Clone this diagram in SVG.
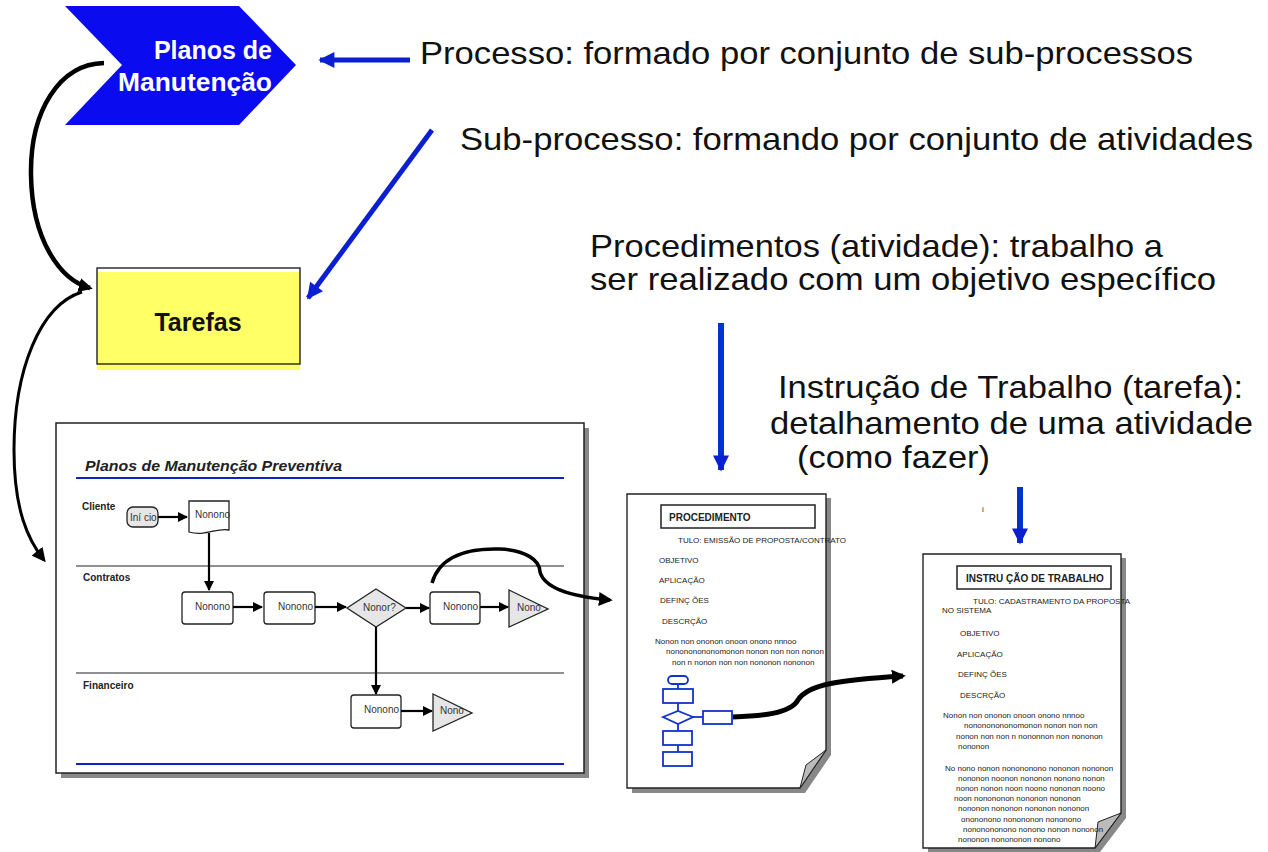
<svg xmlns="http://www.w3.org/2000/svg" width="1268" height="852" viewBox="0 0 1268 852">
<style>
.big{font-family:"Liberation Sans",Arial,sans-serif;font-size:32px;fill:#111}
.lane{font-family:"Liberation Sans",Arial,sans-serif;font-size:10px;font-weight:bold;fill:#222}
.sm{font-family:"Liberation Sans",Arial,sans-serif;font-size:10px;fill:#333}
.doc{font-family:"Liberation Sans",Arial,sans-serif;font-size:8px;fill:#222}
.box{fill:#fff;stroke:#222;stroke-width:1.3}
.gray{fill:#e6e6e6;stroke:#222;stroke-width:1.3}
.fl{fill:none;stroke:#000;stroke-width:2.2}
.bl{fill:#fff;stroke:#1133cc;stroke-width:1.8}
</style>
<defs>
<marker id="ah" viewBox="0 0 10 10" refX="9" refY="5" markerWidth="10" markerHeight="10" markerUnits="userSpaceOnUse" orient="auto"><path d="M0,0 L10,5 L0,10 z" fill="#000"/></marker>
<marker id="bk" viewBox="0 0 10 10" refX="8" refY="5" markerWidth="14" markerHeight="14" markerUnits="userSpaceOnUse" orient="auto"><path d="M0,0 L10,5 L0,10 z" fill="#000"/></marker>
<marker id="bb" viewBox="0 0 10 10" refX="9" refY="5" markerWidth="18" markerHeight="16" markerUnits="userSpaceOnUse" orient="auto"><path d="M0,0 L10,5 L0,10 z" fill="#0a1fd0"/></marker>
</defs>

<g id="planos">
<polygon points="65,6 239,6 296,65 239,125 65,125 122,65" fill="#0b0bf0"/>
<text x="272" y="59" text-anchor="end" font-family="Liberation Sans,Arial,sans-serif" font-size="25" font-weight="bold" fill="#fff">Planos de</text>
<text x="272" y="91" text-anchor="end" font-family="Liberation Sans,Arial,sans-serif" font-size="25" font-weight="bold" fill="#fff" textLength="154" lengthAdjust="spacingAndGlyphs">Manutenção</text>
</g>

<g id="tarefas">
<rect x="97" y="272" width="203" height="98" fill="#ffff66"/>
<rect x="97" y="268" width="203" height="96" fill="none" stroke="#111" stroke-width="1.3"/>
<text x="198" y="331" text-anchor="middle" font-family="Liberation Sans,Arial,sans-serif" font-size="25" font-weight="bold" fill="#111">Tarefas</text>
</g>

<g id="labels">
<text class="big" x="420" y="64" textLength="773" lengthAdjust="spacingAndGlyphs">Processo: formado por conjunto de sub-processos</text>
<text class="big" x="460" y="150" textLength="793" lengthAdjust="spacingAndGlyphs">Sub-processo: formando por conjunto de atividades</text>
<text class="big" x="590" y="257" textLength="573" lengthAdjust="spacingAndGlyphs">Procedimentos (atividade): trabalho a</text>
<text class="big" x="590" y="290" textLength="626" lengthAdjust="spacingAndGlyphs">ser realizado com um objetivo específico</text>
<text class="big" x="778" y="398" textLength="465" lengthAdjust="spacingAndGlyphs">Instrução de Trabalho (tarefa):</text>
<text class="big" x="770" y="434" textLength="483" lengthAdjust="spacingAndGlyphs">detalhamento de uma atividade</text>
<text class="big" x="797" y="468" textLength="193" lengthAdjust="spacingAndGlyphs">(como fazer)</text>
<text class="doc" x="982" y="512" font-size="7">i</text>
</g>

<g id="panel">
<rect x="61" y="428" width="528" height="350" fill="#888"/>
<rect x="56" y="423" width="528" height="350" fill="#fff" stroke="#222" stroke-width="1.5"/>
<text x="85" y="471" font-family="Liberation Sans,Arial,sans-serif" font-size="15" font-weight="bold" font-style="italic" fill="#222" textLength="257" lengthAdjust="spacingAndGlyphs">Planos de Manutenção Preventiva</text>
<line x1="76" y1="478" x2="564" y2="478" stroke="#1122cc" stroke-width="2.2"/>
<line x1="76" y1="566" x2="564" y2="566" stroke="#222" stroke-width="1.2"/>
<line x1="76" y1="673" x2="564" y2="673" stroke="#222" stroke-width="1.2"/>
<line x1="76" y1="764" x2="564" y2="764" stroke="#1122cc" stroke-width="2.2"/>
<text class="lane" x="82" y="510">Cliente</text>
<text class="lane" x="83" y="581">Contratos</text>
<text class="lane" x="83" y="689">Financeiro</text>
<g id="flow">
<rect class="gray" x="127" y="507" width="31" height="20" rx="6"/>
<text class="sm" x="130" y="521">Iní cio</text>
<path class="box" d="M189,501 H229 V530 C218,527 205,537 189,532 Z"/>
<text class="sm" x="195" y="518">Nonono</text>
<rect class="box" x="182" y="592" width="51" height="32" rx="3"/>
<text class="sm" x="195" y="610">Nonono</text>
<rect class="box" x="264" y="592" width="51" height="32" rx="3"/>
<text class="sm" x="278" y="610">Nonono</text>
<polygon class="gray" points="347,608 376,589 406,608 376,627"/>
<text class="sm" x="363" y="611">Nonor?</text>
<rect class="box" x="430" y="592" width="50" height="32" rx="3"/>
<text class="sm" x="443" y="610">Nonono</text>
<polygon class="gray" points="509,590 548,609 509,627"/>
<text class="sm" x="517" y="611">Nono</text>
<rect class="box" x="351" y="695" width="50" height="33" rx="3"/>
<text class="sm" x="364" y="713">Nonono</text>
<polygon class="gray" points="433,694 472,713 433,731"/>
<text class="sm" x="440" y="714">Nono</text>
<line class="fl" x1="158" y1="517" x2="187" y2="517" marker-end="url(#ah)"/>
<line class="fl" x1="209" y1="533" x2="209" y2="590" marker-end="url(#ah)"/>
<line class="fl" x1="233" y1="607" x2="262" y2="607" marker-end="url(#ah)"/>
<line class="fl" x1="315" y1="607" x2="346" y2="607" marker-end="url(#ah)"/>
<line class="fl" x1="406" y1="608" x2="429" y2="608" marker-end="url(#ah)"/>
<line class="fl" x1="480" y1="607" x2="508" y2="607" marker-end="url(#ah)"/>
<line class="fl" x1="376" y1="627" x2="376" y2="694" marker-end="url(#ah)"/>
<line class="fl" x1="401" y1="711" x2="432" y2="711" marker-end="url(#ah)"/>
</g>
</g>

<g id="procedimento">
<path d="M632,498 H831 V755 L805,793 H632 Z" fill="#888"/>
<path d="M627,494 H826 V750 L800,788 H627 Z" fill="#fff" stroke="#222" stroke-width="1.4"/>
<path d="M826,750 L800,788 L806,765 Z" fill="#bbb" stroke="#222" stroke-width="1"/>
<rect x="661" y="505" width="154" height="23" fill="#fff" stroke="#222" stroke-width="1.5"/>
<text x="669" y="521" font-family="Liberation Sans,Arial,sans-serif" font-size="10" font-weight="bold" fill="#222">PROCEDIMENTO</text>
<text class="doc" x="678" y="543">TULO: EMISSÃO DE PROPOSTA/CONTRATO</text>
<text class="doc" x="659" y="563">OBJETIVO</text>
<text class="doc" x="659" y="583">APLICAÇÃO</text>
<text class="doc" x="660" y="603">DEFINÇ ÕES</text>
<text class="doc" x="662" y="624">DESCRÇÃO</text>
<text class="doc" x="655" y="644">Nonon non   ononon onoon onono  nnnoo</text>
<text class="doc" x="666" y="654">nonononononomonon  nonon non  non    nonon</text>
<text class="doc" x="672" y="665">non n   nonon non  non     nononon   nononon</text>
<g id="miniflow">
<line x1="678" y1="683" x2="678" y2="752" stroke="#1133cc" stroke-width="1.8"/>
<line x1="693" y1="717" x2="703" y2="717" stroke="#1133cc" stroke-width="1.8"/>
<rect class="bl" x="668" y="676" width="20" height="8" rx="4"/>
<rect class="bl" x="663" y="689" width="30" height="14"/>
<polygon class="bl" points="663,717 678,711 693,717 678,724"/>
<rect class="bl" x="703" y="711" width="29" height="13"/>
<rect class="bl" x="663" y="731" width="29" height="14"/>
<rect class="bl" x="663" y="752" width="29" height="14"/>
</g>
</g>

<g id="instrucao">
<path d="M928,558 H1126 V818 L1100,852 H928 Z" fill="#888"/>
<path d="M923,554 H1121 V813 L1095,848 H923 Z" fill="#fff" stroke="#222" stroke-width="1.4"/>
<path d="M1121,813 L1095,848 L1098,822 Z" fill="#bbb" stroke="#222" stroke-width="1"/>
<rect x="957" y="566" width="154" height="23" fill="#fff" stroke="#222" stroke-width="1.5"/>
<text x="966" y="582" font-family="Liberation Sans,Arial,sans-serif" font-size="10" font-weight="bold" fill="#222">INSTRU ÇÃO DE TRABALHO</text>
<text class="doc" x="973" y="604">TULO: CADASTRAMENTO DA PROPOSTA</text>
<text class="doc" x="942" y="613">NO SISTEMA</text>
<text class="doc" x="960" y="636">OBJETIVO</text>
<text class="doc" x="957" y="657">APLICAÇÃO</text>
<text class="doc" x="958" y="677">DEFINÇ ÕES</text>
<text class="doc" x="960" y="698">DESCRÇÃO</text>
<text class="doc" x="943" y="718">Nonon non   ononon onoon  onono  nnnoo</text>
<text class="doc" x="964" y="728">nonononononomonon  nonon non  non</text>
<text class="doc" x="956" y="739">nonon non  non n   nononnon non    nononon</text>
<text class="doc" x="958" y="749">nononon</text>
<text class="doc" x="945" y="771">No nono nonon    nonononono nononon  nononon</text>
<text class="doc" x="958" y="781">nononon  noonon  nononon nonono nonon</text>
<text class="doc" x="956" y="791">nonon  nonon noon  noono  nononon noono</text>
<text class="doc" x="954" y="801">noon      nonononon nononon  nononon</text>
<text class="doc" x="958" y="811">nononon  nononon  nononon  nononon</text>
<text class="doc" x="961" y="822">onononono    nonononon nononono</text>
<text class="doc" x="963" y="832">nononononono nonono nonon   nononon</text>
<text class="doc" x="958" y="842">nononon    nonononon nonono</text>
</g>

<g id="connectors">
<line x1="410" y1="60" x2="320" y2="60" stroke="#0a1fd0" stroke-width="5" marker-end="url(#bb)"/>
<line x1="432" y1="130" x2="308" y2="298" stroke="#0a1fd0" stroke-width="5" marker-end="url(#bb)"/>
<line x1="721" y1="323" x2="721" y2="470" stroke="#0033cc" stroke-width="6" marker-end="url(#bb)"/>
<line x1="1020" y1="487" x2="1020" y2="543" stroke="#0033cc" stroke-width="6" marker-end="url(#bb)"/>
<path d="M104,63 C60,64 30,110 31,175 C32,240 60,280 90,288" fill="none" stroke="#000" stroke-width="4.5" marker-end="url(#bk)"/>
<path d="M82,292 C40,305 14,370 14,450 C14,510 28,540 44,560" fill="none" stroke="#000" stroke-width="3" marker-end="url(#bk)"/>
<path d="M432,583 C440,555 470,548 500,549 C525,550 540,560 540,572 C545,590 575,597 610,600" fill="none" stroke="#000" stroke-width="3.5" marker-end="url(#bk)"/>
<path d="M733,717 C760,716 790,714 798,700 C808,684 840,680 903,676" fill="none" stroke="#000" stroke-width="5" marker-end="url(#bk)"/>
</g>
</svg>
